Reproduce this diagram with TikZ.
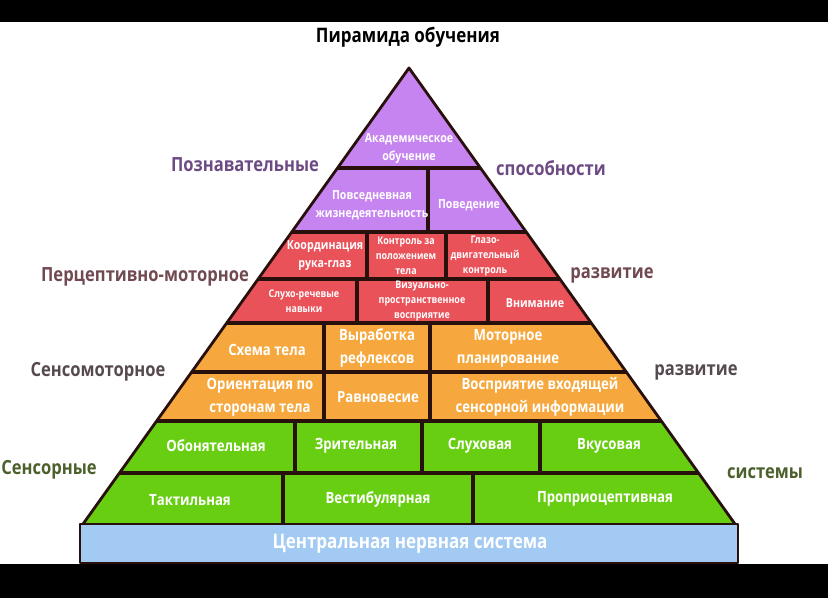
\documentclass[tikz,border=0pt]{standalone}
\usepackage{fontspec}
\setmainfont{Open Sans}[FakeStretch=0.85]
\usetikzlibrary{positioning}
\definecolor{purplayer}{RGB}{198,132,240}
\definecolor{redlayer}{RGB}{234,82,90}
\definecolor{orlayer}{RGB}{246,168,62}
\definecolor{grlayer}{RGB}{104,206,18}
\definecolor{bluelayer}{RGB}{162,202,242}
\definecolor{gridline}{RGB}{40,16,12}
\definecolor{cogtext}{RGB}{110,74,132}
\definecolor{perctext}{RGB}{112,74,80}
\definecolor{smtext}{RGB}{86,74,80}
\definecolor{senstext}{RGB}{76,96,44}

\begin{document}
\begin{tikzpicture}[line cap=round,line join=round,x=1pt,y=-1pt,
  grid/.style={line width=3.2pt,color=gridline},
  cell/.style={text=white,font=\bfseries,align=center,inner sep=0pt},
  small/.style={font=\bfseries\fontsize{10.5}{15}\selectfont},
  mid/.style={font=\bfseries\fontsize{12.5}{18}\selectfont},
  big/.style={font=\bfseries\fontsize{15.5}{23}\selectfont},
  side/.style={font=\bfseries\fontsize{19.5}{24}\selectfont,inner sep=0pt}]
\useasboundingbox (0,0) rectangle (828,598);
\fill[white] (0,0) rectangle (828,598);
\fill[black] (0,0) rectangle (828,22);
\fill[black] (0,564) rectangle (828,598);

\coordinate (apex) at (409,68);
\coordinate (bl) at (83,524);
\coordinate (br) at (735,524);

% layers of the pyramid
\begin{scope}
\clip (apex) -- (bl) -- (br) -- cycle;
\fill[purplayer] (0,60) rectangle (828,232);
\fill[redlayer] (0,232) rectangle (828,323);
\fill[orlayer] (0,323) rectangle (828,421);
\fill[grlayer] (0,421) rectangle (828,530);
\foreach \y in {168,232,279,323,372,421,473}
\draw[grid] (0,\y) -- (828,\y);
\end{scope}
\foreach \x/\ya/\yb in {428/168/232,367/232/279,446/232/279,357/279/323,488/279/323,
  324/323/421,430/323/421,295/421/473,422/421/473,540/421/473,283/473/524,473/473/524}
\draw[grid,line cap=butt] (\x,\ya) -- (\x,\yb);
\draw[line width=2.8pt,color=gridline] (bl) -- (apex) -- (br);
\draw[line width=2pt,color=gridline,fill=bluelayer] (80,524) rectangle (738,563);

\node[font=\bfseries\fontsize{20}{24}\selectfont] (title) at (408,37) {Пирамида обучения};

% side labels
\node[side,text=cogtext] (cogL) at (245,165) {Познавательные};
\node[side,text=cogtext] (cogR) at (551,168) {способности};
\node[side,text=perctext] (percL) at (145,277) {Перцептивно-моторное};
\node[side,text=perctext] (percR) at (612,275) {развитие};
\node[side,text=smtext] (smL) at (98,372) {Сенсомоторное};
\node[side,text=smtext] (smR) at (696,372) {развитие};
\node[side,text=senstext] (sensL) at (49,470) {Сенсорные};
\node[side,text=senstext] (sensR) at (765,473) {системы};

% cells
\node[cell,mid] (acad) at (409,149) {Академическое\\обучение};
\node[cell,mid] (daily) at (372,205) {Повседневная\\жизнедеятельность};
\node[cell,mid] (behav) at (469,205) {Поведение};
\node[cell,mid] (eyehand) at (325,256) {Координация\\рука-глаз};
\node[cell,small] (posctl) at (406,256) {Контроль за\\положением\\тела};
\node[cell,small] (oculomot) at (485,256) {Глазо-\\двигательный\\контроль};
\node[cell,small] (audspeech) at (304,301) {Слухо-речевые\\навыки};
\node[cell,small] (visspat) at (422,301) {Визуально-\\пространственное\\восприятие};
\node[cell,mid] (attn) at (535,303) {Внимание};
\node[cell,big] (bodysch) at (267,350) {Схема тела};
\node[cell,big] (reflex) at (377,348) {Выработка\\рефлексов};
\node[cell,big] (motplan) at (508,348) {Моторное\\планирование};
\node[cell,big] (orient) at (260,397) {Ориентация по\\сторонам тела};
\node[cell,big] (balance) at (378,397) {Равновесие};
\node[cell,big] (sensinput) at (540,397) {Восприятие входящей\\сенсорной информации};
\node[cell,big] (smell) at (216,446) {Обонятельная};
\node[cell,big] (vision) at (356,446) {Зрительная};
\node[cell,big] (hearing) at (480,446) {Слуховая};
\node[cell,big] (taste) at (609,446) {Вкусовая};
\node[cell,big] (touch) at (190,500) {Тактильная};
\node[cell,big] (vestib) at (378,499) {Вестибулярная};
\node[cell,big] (propr) at (605,499) {Проприоцептивная};
\node[cell,font=\bfseries\fontsize{20}{24}\selectfont] (cns) at (410,544) {Центральная нервная система};
\end{tikzpicture}
\end{document}
